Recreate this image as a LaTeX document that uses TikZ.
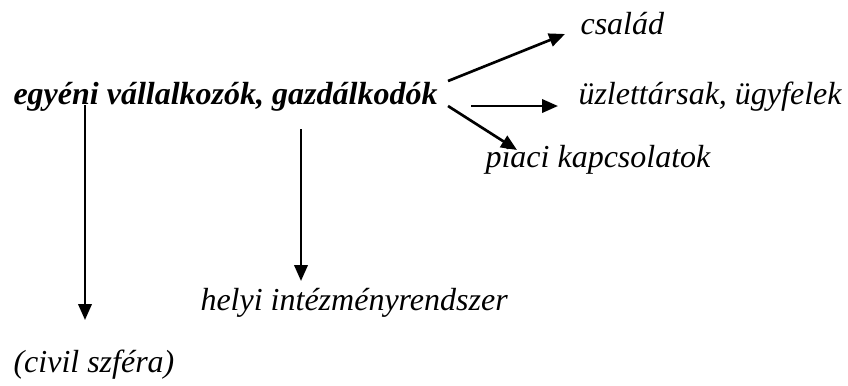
\documentclass[tikz,border=0pt]{standalone}
\usepackage{fontspec}
\setmainfont{Liberation Serif}[ItalicFont={Liberation Serif Italic}, BoldItalicFont={Liberation Serif Bold Italic}, BoldFont={Liberation Serif Bold}]
\usepackage{tikz}
\usetikzlibrary{arrows.meta}
\begin{document}
\begin{tikzpicture}[x=0.375pt, y=-0.375pt, lbl/.style={font=\rmfamily\itshape, inner sep=0pt, anchor=base west}]
    \tikzset{link/.style={line width=1pt, -{Triangle[length=6pt, width=5pt]}}}
    \fontsize{12}{14}\selectfont
    \useasboundingbox (0,0) rectangle (848,385);
    % main node and its neighbours
    \node[lbl, font=\rmfamily\bfseries\itshape] (ego) at (13,104) {egyéni vállalkozók, gazdálkodók};
    \node[lbl] (csalad) at (580,34) {család};
    \node[lbl] (uzlet) at (578,104) {üzlettársak, ügyfelek};
    \node[lbl] (piac) at (485,167) {piaci kapcsolatok};
    \node[lbl] (helyi) at (200,310) {helyi intézményrendszer};
    \node[lbl] (civil) at (13,372) {(civil szféra)};
    
    \draw[link] ([shift={(10,-23)}]ego.base east) -- ([shift={(-15,0)}]csalad.base west);
    \draw[link] ([shift={(33,2)}]ego.base east) -- ([shift={(-20,2)}]uzlet.base west);
    \draw[link] ([shift={(10,2)}]ego.base east) -- ([shift={(32,-17)}]piac.base west);
    %\draw[link] (ego.south) -- (helyi.north);
    \draw[link] ([shift={(288,25)}]ego.base west) -- ([shift={(101,-29)}]helyi.base west);
    \draw[link] ([shift={(72,1)}]ego.base west) -- ([shift={(72,-52)}]civil.base west);
\end{tikzpicture}
\end{document}
